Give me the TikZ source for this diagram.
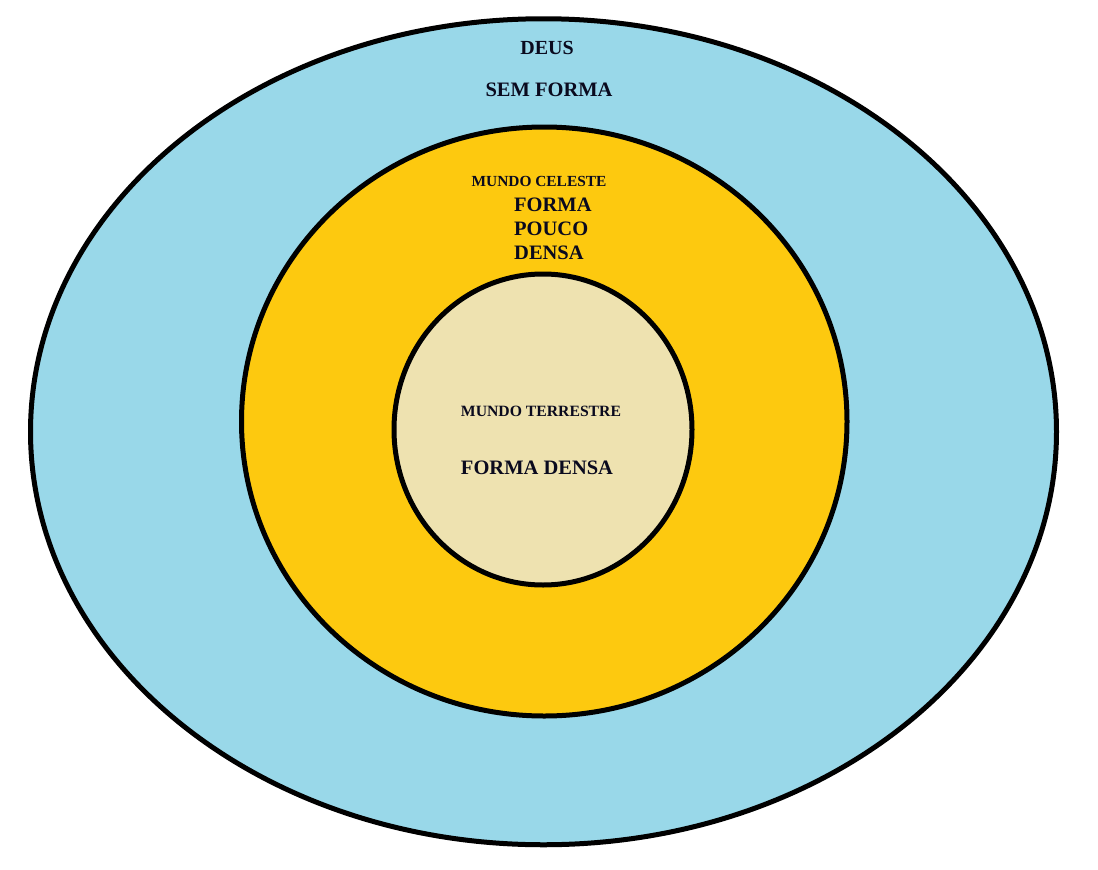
\documentclass[tikz,border=0pt]{standalone}
\usepackage{fontspec}
\setmainfont{Liberation Serif}
\definecolor{skyb}{HTML}{99D8E9}
\definecolor{gold}{HTML}{FDC90F}
\definecolor{sand}{HTML}{EEE2B0}
\definecolor{ink}{HTML}{0A0A1E}
\begin{document}
\begin{tikzpicture}[x=1pt,y=-1pt,
  ring/.style={draw=black,line width=5pt},
  lbl/.style={text=ink,font=\bfseries,inner sep=0pt,anchor=base}]
\useasboundingbox (0,0) rectangle (1098,870);
\fill[white] (0,0) rectangle (1098,870);
\draw[ring,fill=skyb] (543.5,431.75) ellipse [x radius=513, y radius=413];
\draw[ring,fill=gold] (544.25,421.5) ellipse [x radius=302.75, y radius=294.5];
\draw[ring,fill=sand] (543,429.5) ellipse [x radius=149, y radius=155.5];
\node[lbl,font=\bfseries\fontsize{20}{24}\selectfont] (deus) at (547,54) {DEUS};
\node[lbl,font=\bfseries\fontsize{20.5}{24}\selectfont] (sem) at (549,96) {SEM FORMA};
\node[lbl,font=\bfseries\fontsize{15.4}{18}\selectfont] (celeste) at (539,186) {MUNDO CELESTE};
\node[lbl,anchor=base west,font=\bfseries\fontsize{20.5}{24}\selectfont] (f1) at (514,211) {FORMA};
\node[lbl,anchor=base west,font=\bfseries\fontsize{20.5}{24}\selectfont] (f2) at (514,235) {POUCO};
\node[lbl,anchor=base west,font=\bfseries\fontsize{20.5}{24}\selectfont] (f3) at (514,259) {DENSA};
\node[lbl,font=\bfseries\fontsize{15.7}{18}\selectfont] (terr) at (541,416) {MUNDO TERRESTRE};
\node[lbl,font=\bfseries\fontsize{20.5}{24}\selectfont] (densa) at (537,474) {FORMA DENSA};
\end{tikzpicture}
\end{document}
